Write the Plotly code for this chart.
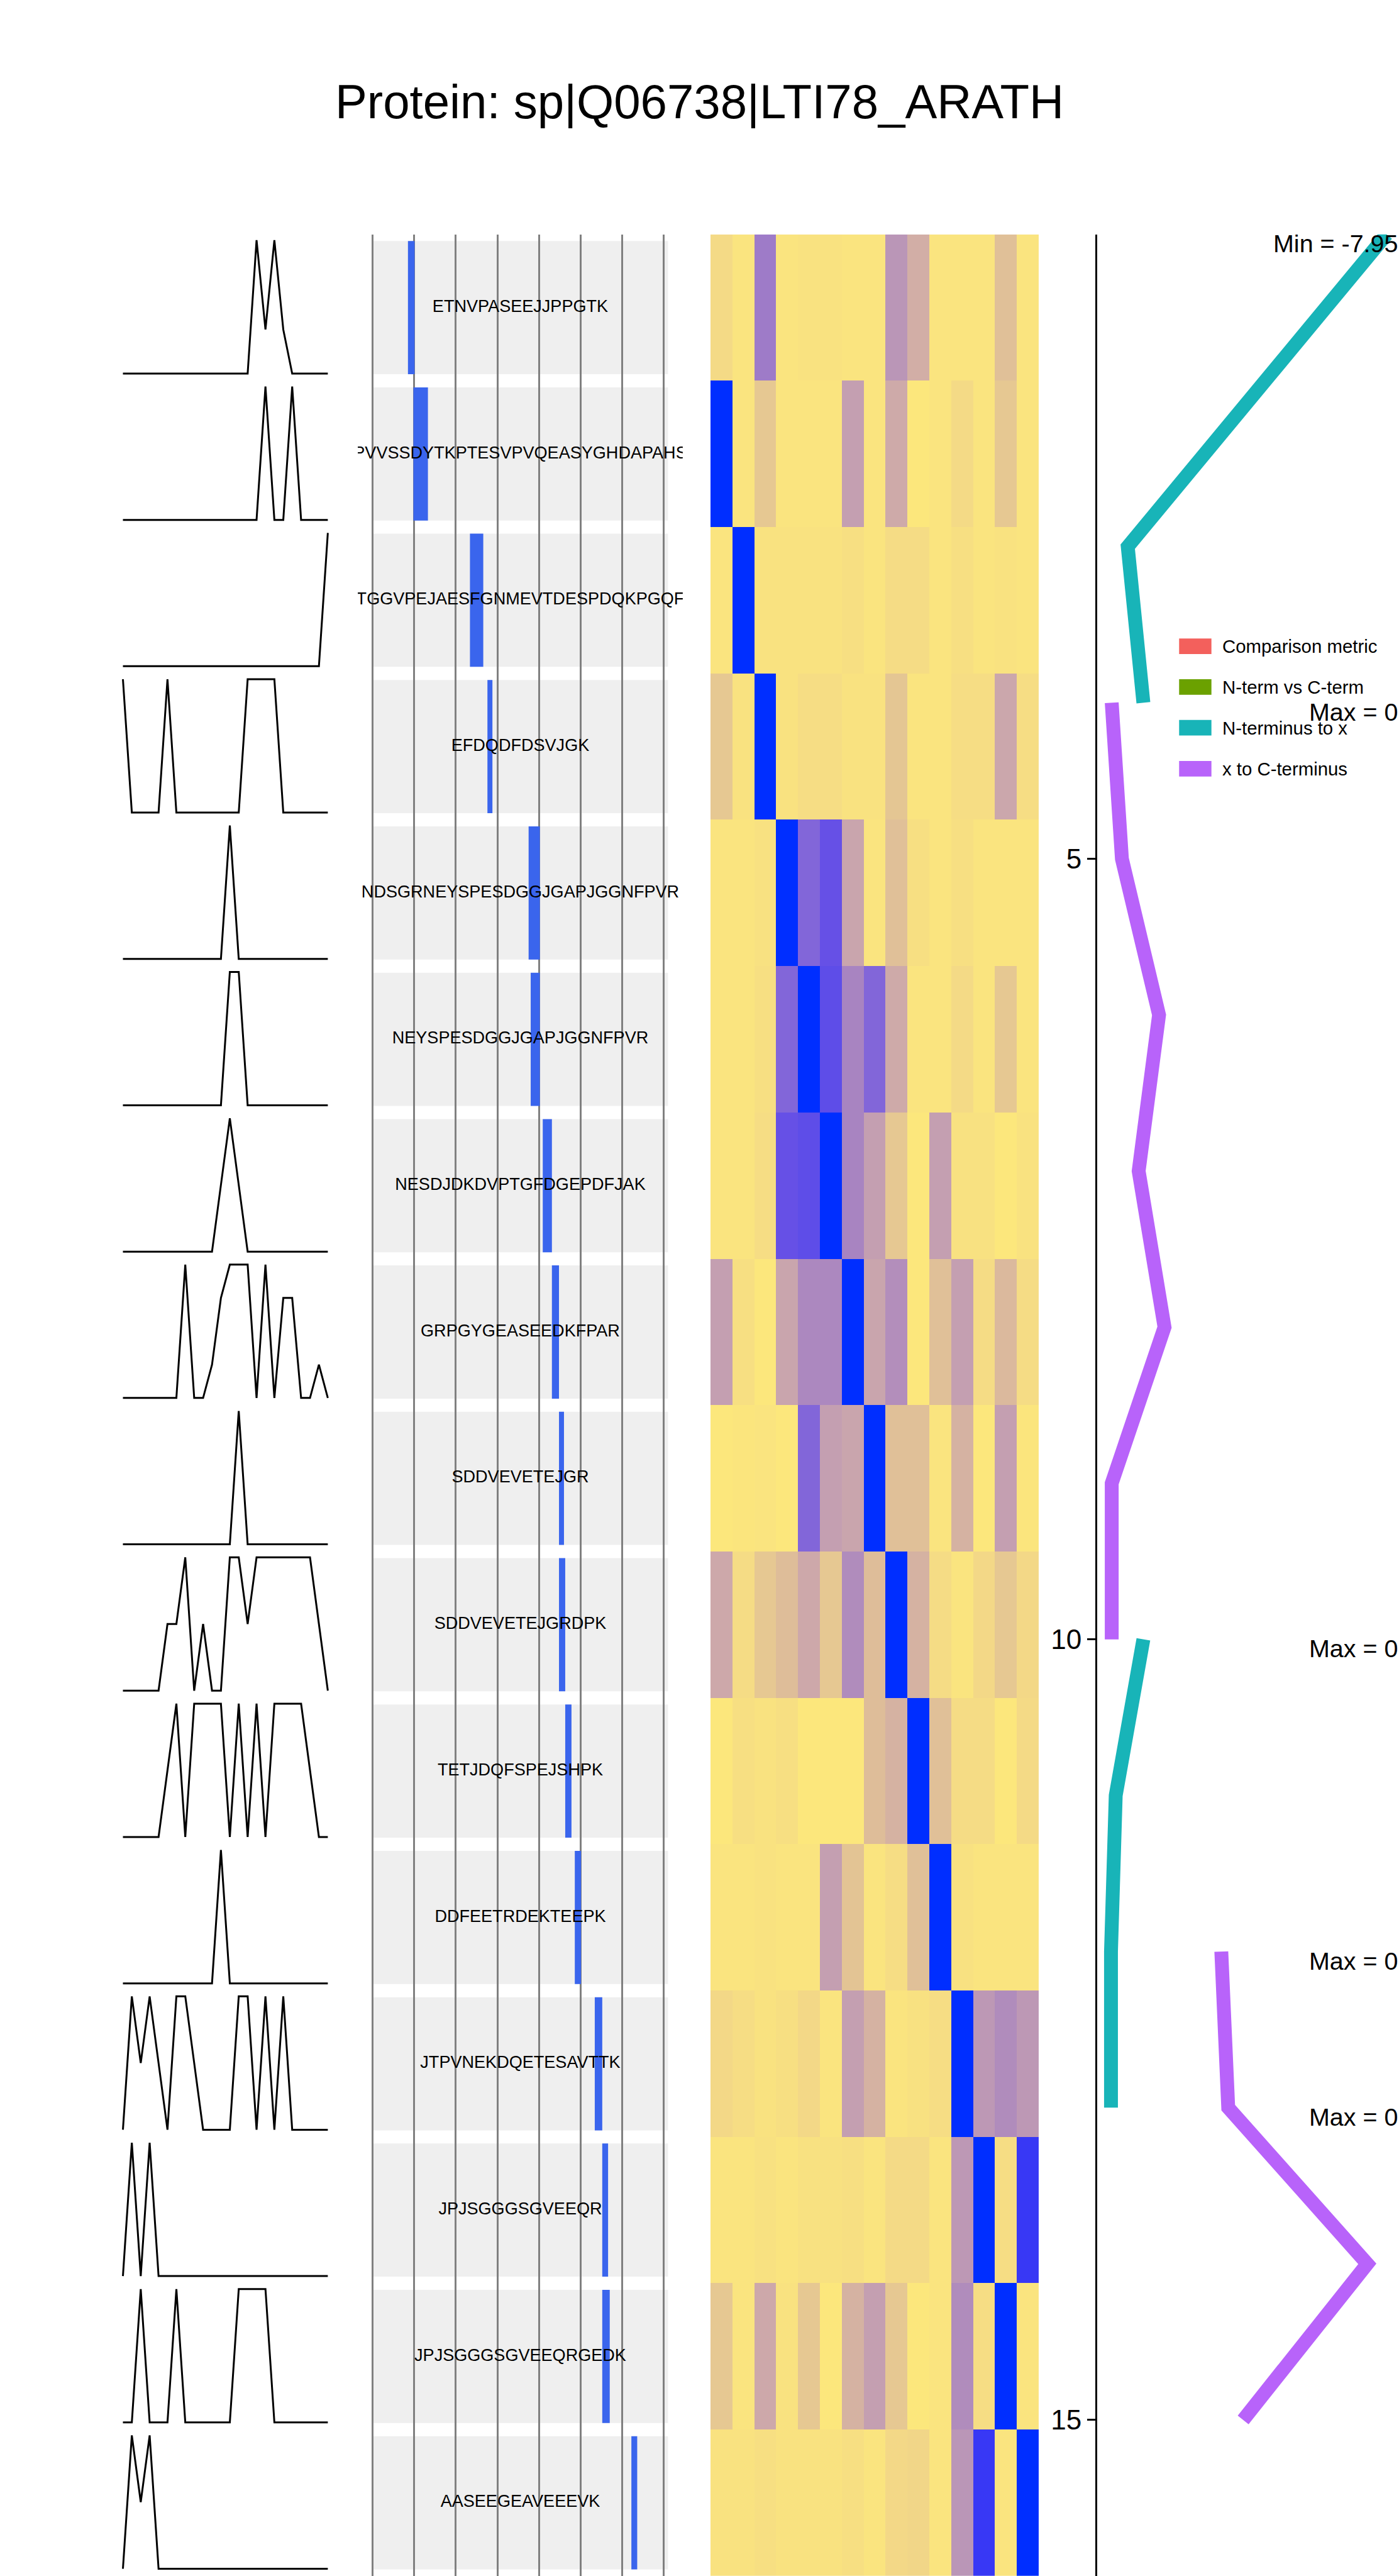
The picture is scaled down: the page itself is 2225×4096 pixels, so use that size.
import plotly.graph_objects as go

# ---------------- data ----------------
title_text = "Protein: sp|Q06738|LTI78_ARATH"
protein_length = 710

peptides = [
    "ETNVPASEEJJPPGTK",
    "PVVSSDYTKPTESVPVQEASYGHDAPAHS",
    "TGGVPEJAESFGNMEVTDESPDQKPGQF",
    "EFDQDFDSVJGK",
    "NDSGRNEYSPESDGGJGAPJGGNFPVR",
    "NEYSPESDGGJGAPJGGNFPVR",
    "NESDJDKDVPTGFDGEPDFJAK",
    "GRPGYGEASEEDKFPAR",
    "SDDVEVETEJGR",
    "SDDVEVETEJGRDPK",
    "TETJDQFSPEJSHPK",
    "DDFEETRDEKTEEPK",
    "JTPVNEKDQETESAVTTK",
    "JPJSGGGSGVEEQR",
    "JPJSGGGSGVEEQRGEDK",
    "AASEEGEAVEEEVK",
]
pep_start = [85, 98, 234, 276, 375, 380, 409, 431, 448, 448, 463, 486, 534, 552, 552, 622]
pep_len = [16, 35, 32, 12, 27, 22, 22, 17, 12, 15, 15, 15, 18, 14, 18, 14]
rows = list(range(1, 17))

spark_x = list(range(24))
spark_values = [
    [0]*15 + [1, 0.33, 1, 0.33] + [0]*5,
    [0]*16 + [1, 0, 0, 1] + [0]*4,
    [0]*23 + [1],
    [1, 0, 0, 0, 0, 1, 0, 0, 0, 0, 0, 0, 0, 0, 1, 1, 1, 1, 0, 0, 0, 0, 0, 0],
    [0]*12 + [1] + [0]*11,
    [0]*12 + [1, 1] + [0]*10,
    [0]*11 + [0.5, 1, 0.5] + [0]*10,
    [0, 0, 0, 0, 0, 0, 0, 1, 0, 0, 0.25, 0.75, 1, 1, 1, 0, 1, 0, 0.75, 0.75, 0, 0, 0.25, 0],
    [0]*13 + [1] + [0]*10,
    [0, 0, 0, 0, 0, 0.5, 0.5, 1, 0, 0.5, 0, 0, 1, 1, 0.5, 1, 1, 1, 1, 1, 1, 1, 0.5, 0],
    [0, 0, 0, 0, 0, 0.5, 1, 0, 1, 1, 1, 1, 0, 1, 0, 1, 0, 1, 1, 1, 1, 0.5, 0, 0],
    [0]*11 + [1] + [0]*12,
    [0, 1, 0.5, 1, 0.5, 0, 1, 1, 0.5, 0, 0, 0, 0, 1, 1, 0, 1, 0, 1, 0, 0, 0, 0, 0],
    [0, 1, 0, 1] + [0]*20,
    [0, 0, 1, 0, 0, 0, 1, 0, 0, 0, 0, 0, 0, 1, 1, 1, 1] + [0]*7,
    [0, 1, 0.5, 1] + [0]*20,
]

heat_cols = list(range(1, 16))
heat_values = [
    [0.08, 0.02, 0.55, 0.02, 0.03, 0.03, 0.02, 0.02, 0.42, 0.30, 0.02, 0.02, 0.02, 0.22, 0.02],
    [1.00, 0.02, 0.18, 0.02, 0.02, 0.02, 0.38, 0.02, 0.32, 0.00, 0.02, 0.08, 0.02, 0.18, 0.02],
    [0.02, 1.00, 0.03, 0.03, 0.03, 0.03, 0.05, 0.02, 0.07, 0.07, 0.02, 0.05, 0.02, 0.03, 0.02],
    [0.18, 0.03, 1.00, 0.03, 0.06, 0.06, 0.03, 0.03, 0.19, 0.02, 0.02, 0.06, 0.06, 0.34, 0.06],
    [0.02, 0.02, 0.04, 1.00, 0.65, 0.78, 0.35, 0.02, 0.22, 0.05, 0.02, 0.05, 0.02, 0.02, 0.02],
    [0.02, 0.02, 0.05, 0.65, 1.00, 0.82, 0.50, 0.65, 0.32, 0.02, 0.02, 0.08, 0.02, 0.18, 0.02],
    [0.02, 0.02, 0.06, 0.78, 0.82, 1.00, 0.50, 0.38, 0.18, 0.00, 0.38, 0.04, 0.04, 0.00, 0.03],
    [0.38, 0.05, 0.00, 0.35, 0.48, 0.48, 1.00, 0.35, 0.45, 0.00, 0.22, 0.38, 0.07, 0.25, 0.07],
    [0.00, 0.01, 0.02, 0.00, 0.65, 0.38, 0.35, 1.00, 0.22, 0.22, 0.02, 0.28, 0.00, 0.38, 0.01],
    [0.33, 0.07, 0.18, 0.23, 0.33, 0.18, 0.46, 0.23, 1.00, 0.28, 0.07, 0.02, 0.09, 0.18, 0.09],
    [0.00, 0.05, 0.03, 0.05, 0.00, 0.00, 0.00, 0.23, 0.28, 1.00, 0.22, 0.07, 0.07, 0.00, 0.08],
    [0.02, 0.02, 0.03, 0.02, 0.02, 0.38, 0.20, 0.02, 0.06, 0.22, 1.00, 0.04, 0.02, 0.02, 0.02],
    [0.09, 0.06, 0.03, 0.05, 0.09, 0.02, 0.38, 0.28, 0.02, 0.04, 0.06, 1.00, 0.41, 0.46, 0.41],
    [0.02, 0.02, 0.04, 0.02, 0.04, 0.04, 0.05, 0.02, 0.08, 0.08, 0.02, 0.41, 1.00, 0.06, 0.92],
    [0.18, 0.02, 0.33, 0.03, 0.18, 0.00, 0.28, 0.38, 0.18, 0.00, 0.02, 0.46, 0.06, 1.00, 0.02],
    [0.03, 0.03, 0.05, 0.03, 0.03, 0.03, 0.05, 0.02, 0.09, 0.10, 0.02, 0.42, 0.92, 0.02, 1.00],
]

# metric lines (x = metric value, y = peptide index)
nterm1_y = [1, 3, 4]
nterm1_x = [-7.95, -0.84, -1.27]
cterm1_y = [4, 5, 6, 7, 8, 9, 10]
cterm1_x = [-0.40, -0.68, -1.70, -1.14, -1.85, -0.40, -0.40]
nterm2_y = [10, 11, 12, 13]
nterm2_x = [-1.27, -0.51, -0.38, -0.38]
cterm2_y = [12, 13, 14, 15]
cterm2_x = [-3.41, -3.60, -7.42, -4.01]

label_y = [1, 4, 10, 12, 13]
label_text = ["Min = -7.95", "Max = 0", "Max = 0", "Max = 0", "Max = 0"]
y_ticks = [5, 10, 15]

legend_names = ["Comparison metric", "N-term vs C-term", "N-terminus to x", "x to C-terminus"]
legend_colors = ["#F3605C", "#6BA100", "#18B4B8", "#B863FA"]

# ---------------- layout helpers ----------------
W0, H0 = 2424.0, 4462.0
S = 2225.0 / W0
FONT = "Liberation Sans, Arial, sans-serif"


def fx(p):
    return p / W0


def fy(p):
    return 1 - p / H0


TOP, ROW_H = 406.0, 253.5
BOTTOM = TOP + 16 * ROW_H

fig = go.Figure()
layout = {}


def axname(k, a):
    return f"{a}axis" if k == 1 else f"{a}axis{k}"


def ref(k, a):
    return a if k == 1 else f"{a}{k}"


# sparklines
for i, vals in enumerate(spark_values):
    k = i + 1
    top = TOP + ROW_H * i
    y1 = top + 10
    y0 = top + 241
    span = y0 - y1
    layout[axname(k, "x")] = dict(domain=[fx(213 - 3.1), fx(568 + 3.1)], range=[-0.2, 23.2],
                                  visible=False, anchor=ref(k, "y"))
    layout[axname(k, "y")] = dict(domain=[fy(y0 + 0.05 * span), fy(y1 - 0.05 * span)],
                                  range=[-0.05, 1.05], visible=False, anchor=ref(k, "x"))
    fig.add_trace(go.Scatter(x=spark_x, y=vals, mode="lines",
                             line=dict(color="black", width=3.0),
                             xaxis=ref(k, "x"), yaxis=ref(k, "y"),
                             showlegend=False, hoverinfo="skip"))

# peptide panel (k=17)
layout["xaxis17"] = dict(domain=[fx(620), fx(1183)], range=[-35.5, 745.5],
                         tickvals=list(range(0, 701, 100)), showticklabels=False, ticks="",
                         showgrid=True, gridcolor="#808080", gridwidth=3.2, zeroline=False,
                         showline=False, anchor="y17")
layout["yaxis17"] = dict(domain=[fy(BOTTOM), fy(TOP)], range=[16.5, 0.5], visible=False,
                         showgrid=False, anchor="x17")
shapes = []
for r in rows:
    shapes.append(dict(type="rect", xref="x17", yref="y17", x0=0, x1=protein_length,
                       y0=r - 0.455, y1=r + 0.455, fillcolor="#EFEFEF",
                       line=dict(width=0), layer="below"))
fig.add_trace(go.Bar(orientation="h", y=rows, x=pep_len, base=pep_start, width=0.91,
                     marker=dict(color="#3A65ED", line=dict(width=0)),
                     xaxis="x17", yaxis="y17", showlegend=False, hoverinfo="skip"))
fig.add_trace(go.Scatter(x=[protein_length / 2] * len(rows), y=rows, text=peptides,
                         mode="text", textposition="middle center",
                         textfont=dict(family=FONT, size=29.5 * S, color="black"),
                         cliponaxis=True, xaxis="x17", yaxis="y17",
                         showlegend=False, hoverinfo="skip"))

# heatmap (k=18)
colorscale = [
    [0.0, "#FCE77C"], [0.08, "#F4DA86"], [0.2, "#E3C494"], [0.3, "#D2AEA6"],
    [0.38, "#C49FB1"], [0.46, "#B08CBC"], [0.55, "#9E7BC8"], [0.65, "#8266D9"],
    [0.78, "#6650E6"], [0.83, "#5C4CE9"], [0.92, "#3838F5"], [1.0, "#002EFF"],
]
layout["xaxis18"] = dict(domain=[fx(1231), fx(1800)], range=[0.5, 15.5], visible=False, anchor="y18")
layout["yaxis18"] = dict(domain=[fy(BOTTOM), fy(TOP)], range=[16.5, 0.5], visible=False, anchor="x18")
fig.add_trace(go.Heatmap(z=heat_values, x=heat_cols, y=rows, colorscale=colorscale,
                         zmin=0, zmax=1, showscale=False, xaxis="x18", yaxis="y18",
                         hoverinfo="skip"))

# metric lines (k=19)
layout["xaxis19"] = dict(domain=[fx(1901), 1.0], range=[0, -8.29], visible=False, anchor="y19")
layout["yaxis19"] = dict(domain=[fy(BOTTOM), fy(TOP)], range=[16, 1], anchor="x19",
                         showgrid=False, zeroline=False, showline=True, linecolor="black",
                         linewidth=3.5 * S, ticks="outside", ticklen=14 * S, tickwidth=3 * S,
                         tickcolor="black", tickvals=y_ticks,
                         tickfont=dict(family=FONT, size=48 * S, color="black"))
for xs, ys, col in [(nterm1_x, nterm1_y, legend_colors[2]), (cterm1_x, cterm1_y, legend_colors[3]),
                    (nterm2_x, nterm2_y, legend_colors[2]), (cterm2_x, cterm2_y, legend_colors[3])]:
    fig.add_trace(go.Scatter(x=xs, y=ys, mode="lines", line=dict(color=col, width=24 * S),
                             xaxis="x19", yaxis="y19", showlegend=False, hoverinfo="skip"))

annotations = []
for yv, t in zip(label_y, label_text):
    annotations.append(dict(text=t, xref="x19 domain", yref="y19", x=1.0, y=yv,
                            xanchor="right", yanchor="middle", yshift=-16 * S, showarrow=False,
                            font=dict(family=FONT, size=43 * S, color="black")))

# legend (manual)
leg_centers = [1119.5, 1190.0, 1260.5, 1331.5]
for name, col, cy in zip(legend_names, legend_colors, leg_centers):
    shapes.append(dict(type="rect", xref="paper", yref="paper", x0=fx(2043), x1=fx(2099),
                       y0=fy(cy + 13.5), y1=fy(cy - 13.5), fillcolor=col,
                       line=dict(width=0), layer="above"))
    annotations.append(dict(text=name, xref="paper", yref="paper", x=fx(2116), y=fy(cy),
                            xanchor="left", yanchor="middle", showarrow=False,
                            font=dict(family=FONT, size=32 * S, color="black")))

layout.update(
    width=2225, height=4096,
    margin=dict(l=0, r=0, t=0, b=0),
    paper_bgcolor="white", plot_bgcolor="white",
    showlegend=False,
    title=dict(text=title_text, x=0.5, xanchor="center", y=fy(176), yanchor="middle",
               font=dict(family=FONT, size=83 * S, color="black")),
    shapes=shapes, annotations=annotations,
)
fig.update_layout(**layout)
fig.write_html("out.html")
